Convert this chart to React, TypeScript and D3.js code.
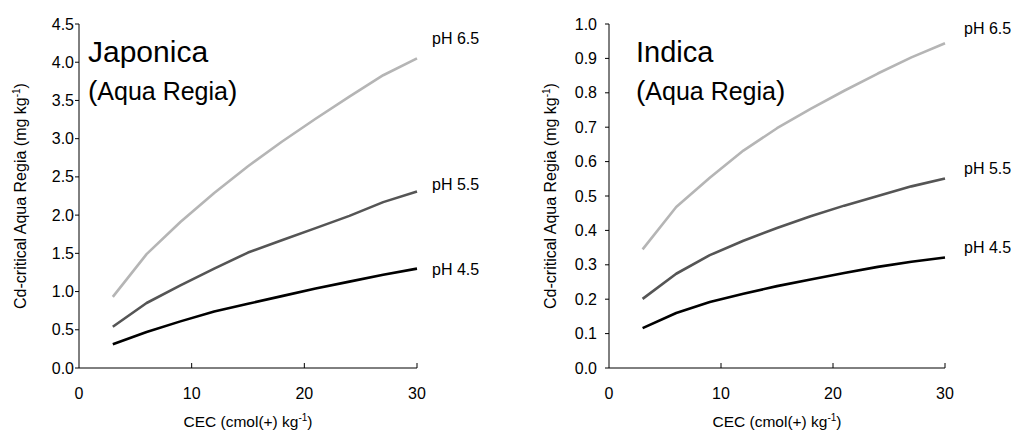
import React from "react";
import * as d3 from "d3";

const cec = [3, 6, 9, 12, 15, 18, 21, 24, 27, 30];
const seriesNames = ["pH 6.5", "pH 5.5", "pH 4.5"];
const seriesColors = ["#b5b5b5", "#555555", "#000000"];

const japonica65 = [0.93, 1.49, 1.91, 2.29, 2.64, 2.96, 3.26, 3.55, 3.83, 4.05];
const japonica55 = [0.54, 0.85, 1.08, 1.30, 1.51, 1.67, 1.83, 1.99, 2.17, 2.31];
const japonica45 = [0.31, 0.47, 0.61, 0.74, 0.84, 0.94, 1.04, 1.13, 1.22, 1.30];

const indica65 = [0.345, 0.468, 0.553, 0.632, 0.697, 0.753, 0.806, 0.856, 0.903, 0.944];
const indica55 = [0.201, 0.274, 0.328, 0.370, 0.407, 0.441, 0.472, 0.500, 0.528, 0.551];
const indica45 = [0.116, 0.160, 0.192, 0.216, 0.238, 0.257, 0.276, 0.294, 0.309, 0.321];

const xTicks = [0, 10, 20, 30];
const japonicaYTicks = [0, 0.5, 1, 1.5, 2, 2.5, 3, 3.5, 4, 4.5];
const indicaYTicks = [0, 0.1, 0.2, 0.3, 0.4, 0.5, 0.6, 0.7, 0.8, 0.9, 1.0];

type PanelProps = {
  left: number;
  right: number;
  yMax: number;
  yTicks: number[];
  series: number[][];
  title: string;
  titleSize: number;
  titleDx: number;
  labelDx: number;
  labelDy: number[];
  tickLabelGap: number;
  yTitleX: number;
};

const top = 24;
const bottom = 368;
const font = "Arial, 'Liberation Sans', Helvetica, sans-serif";

function Panel(p: PanelProps) {
  const x = d3.scaleLinear().domain([0, 30]).range([p.left, p.right]);
  const y = d3.scaleLinear().domain([0, p.yMax]).range([bottom, top]);
  const line = d3
    .line<number>()
    .x((_, i) => x(cec[i]))
    .y((v) => y(v));
  const fmt = d3.format(".1f");
  return (
    <g>
      <line x1={p.left} x2={p.left} y1={top} y2={bottom} stroke="#000" strokeWidth={1} />
      <line x1={p.left} x2={p.right} y1={bottom} y2={bottom} stroke="#000" strokeWidth={1} />
      {p.yTicks.map((t) => (
        <g key={"y" + t}>
          <line x1={p.left - 4} x2={p.left} y1={y(t)} y2={y(t)} stroke="#000" />
          <text
            x={p.left - p.tickLabelGap}
            y={y(t)}
            dy="0.35em"
            textAnchor="end"
            fontSize={16}
            fontFamily={font}
            fill="#000"
          >
            {fmt(t)}
          </text>
        </g>
      ))}
      {xTicks.map((t) => (
        <g key={"x" + t}>
          {t > 0 && <line x1={x(t)} x2={x(t)} y1={bottom - 5} y2={bottom} stroke="#000" />}
          <text x={x(t)} y={393} dy="0.35em" textAnchor="middle" fontSize={16} fontFamily={font} fill="#000">
            {t}
          </text>
        </g>
      ))}
      <text x={(p.left + p.right) / 2} y={427} textAnchor="middle" fontSize={15.5} fontFamily={font} fill="#000">
        CEC (cmol(+) kg<tspan dy={-6} fontSize={10}>-1</tspan>
        <tspan dy={6}>)</tspan>
      </text>
      <text
        transform={`translate(${p.yTitleX},${(top + bottom) / 2}) rotate(-90)`}
        textAnchor="middle"
        dy="0.35em"
        fontSize={16}
        fontFamily={font}
        fill="#000"
      >
        Cd-critical Aqua Regia (mg kg<tspan dy={-6} fontSize={10}>-1</tspan>
        <tspan dy={6}>)</tspan>
      </text>
      <text x={p.left + p.titleDx} y={62} fontSize={p.titleSize} fontFamily={font} fill="#000">
        {p.title}
      </text>
      <text x={p.left + p.titleDx} y={100} fontSize={25} fontFamily={font} fill="#000">
        <tspan fontSize={28}>(</tspan>Aqua Regia<tspan fontSize={28}>)</tspan>
      </text>
      {p.series.map((s, i) => (
        <path
          key={"s" + i}
          d={line(s) || ""}
          fill="none"
          stroke={seriesColors[i]}
          strokeWidth={2.6}
          strokeLinejoin="round"
        />
      ))}
      {p.series.map((s, i) => (
        <text
          key={"l" + i}
          x={x(cec[cec.length - 1]) + p.labelDx}
          y={y(s[s.length - 1]) + p.labelDy[i]}
          dy="0.35em"
          fontSize={16}
          fontFamily={font}
          fill="#000"
        >
          {seriesNames[i]}
        </text>
      ))}
    </g>
  );
}

export default function App() {
  return (
    <svg width={1014} height={434} style={{ position: "absolute", left: 0, top: 0, background: "#fff" }}>
      <rect width={1014} height={434} fill="#fff" />
      <Panel
        left={79}
        right={417}
        yMax={4.5}
        yTicks={japonicaYTicks}
        series={[japonica65, japonica55, japonica45]}
        title="Japonica"
        titleSize={30}
        titleDx={9}
        labelDx={15}
        labelDy={[-20, -7, 1]}
        tickLabelGap={5}
        yTitleX={20}
      />
      <Panel
        left={609}
        right={945}
        yMax={1.0}
        yTicks={indicaYTicks}
        series={[indica65, indica55, indica45]}
        title="Indica"
        titleSize={29}
        titleDx={27}
        labelDx={19}
        labelDy={[-15, -10, -10]}
        tickLabelGap={12}
        yTitleX={550}
      />
    </svg>
  );
}
